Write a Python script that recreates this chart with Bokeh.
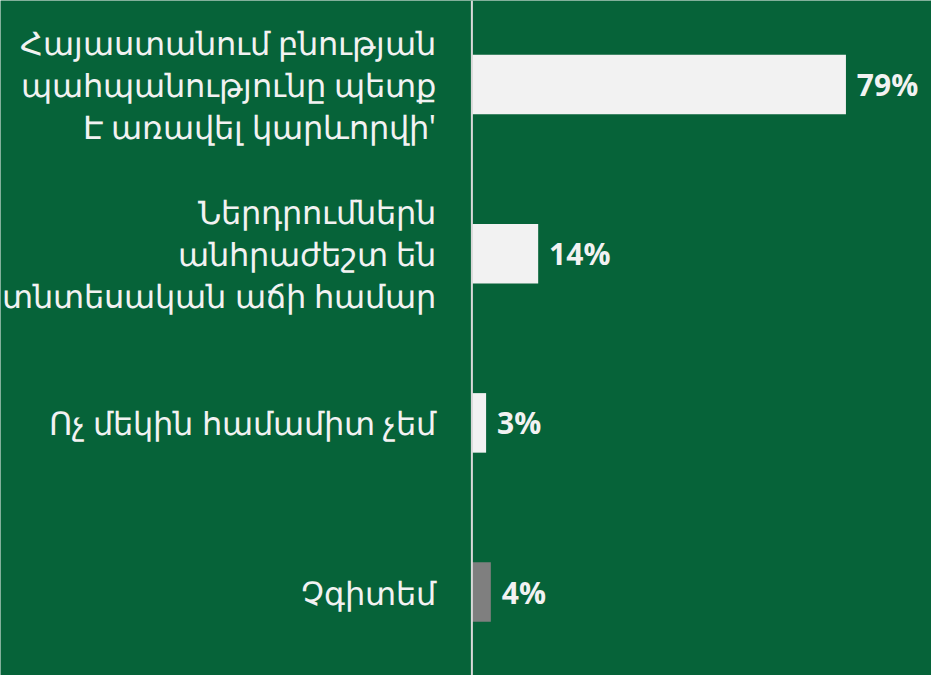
from bokeh.plotting import figure
from bokeh.models import Range1d, Span, ColumnDataSource
from bokeh.core.properties import value
from bokeh.embed import file_html
from bokeh.resources import INLINE

categories = [
    "Հայաստանում բնության\nպահպանությունը պետք\nԷ առավել կարևորվի'",
    "Ներդրումներն\nանհրաժեշտ են\nտնտեսական աճի համար",
    "Ոչ մեկին համամիտ չեմ",
    "Չգիտեմ",
]
values = [79, 14, 3, 4]
value_labels = ["79%", "14%", "3%", "4%"]
bar_colors = ["#F2F2F2", "#F2F2F2", "#F2F2F2", "#7F7F7F"]

BG = "#066339"

idx = list(range(len(categories)))
src = ColumnDataSource(dict(
    y=idx,
    v=values,
    cat=categories,
    lab=value_labels,
    col=bar_colors,
    lx=[-7.6] * len(idx),
    vx=[v + 2.3 for v in values],
))

p = figure(width=931, height=675, output_backend="svg", toolbar_location=None,
           x_range=Range1d(-99.56, 97.07), y_range=Range1d(3.493, -0.4965),
           x_axis_location=None, y_axis_location=None, min_border=0)
p.background_fill_color = BG
p.border_fill_color = BG
p.outline_line_color = None
p.xgrid.visible = False
p.ygrid.visible = False

p.hbar(y="y", left=0, right="v", height=0.352, fill_color="col",
       line_color=None, source=src)

p.add_layout(Span(location=0, dimension="height", line_color="#D9D9D9", line_width=2))

p.text(x="lx", y="y", text="cat", source=src, text_align="right",
       text_baseline="middle", text_color="#F2F2F2", text_font_size="32px",
       text_font=value("Noto Sans"), text_line_height=0.98)

p.text(x="vx", y="y", text="lab", source=src, text_align="left",
       text_baseline="middle", text_color="#F2F2F2", text_font_size="30px",
       text_font_style="bold", text_font=value("Open Sans"))

open("out.html", "w").write(file_html(p, INLINE))
